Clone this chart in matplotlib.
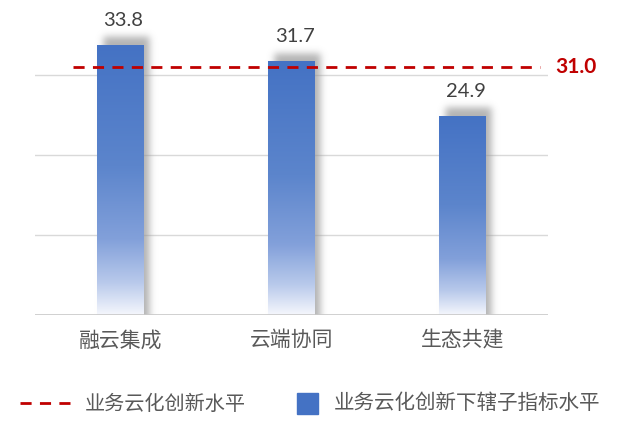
import math
import numpy as np
import matplotlib
matplotlib.use("Agg")
import matplotlib.pyplot as plt
from matplotlib.lines import Line2D
from matplotlib.patches import Rectangle
from matplotlib.colors import LinearSegmentedColormap

categories = ["融云集成", "云端协同", "生态共建"]
values = [33.8, 31.7, 24.9]
benchmark = 31.0
legend_labels = ["业务云化创新水平", "业务云化创新下辖子指标水平"]

FONT = ["Lato", "Noto Sans CJK SC", "DejaVu Sans"]
plt.rcParams["font.family"] = FONT

W, H = 640, 425
fig = plt.figure(figsize=(W / 100, H / 100), dpi=100)
ax_left, ax_right, ax_base = 35, 548, 315
ax = fig.add_axes([ax_left / W, 1 - ax_base / H, (ax_right - ax_left) / W, ax_base / H])
ymax = 39.375
ax.set_xlim(-0.5, len(categories) - 0.5)
ax.set_ylim(0, ymax)

px_x = (ax_right - ax_left) / len(categories)   # pixels per x unit
px_y = ax_base / ymax                            # pixels per y unit

# gridlines
for g in [10, 20, 30]:
    ax.axhline(g, color="#D9D9D9", lw=1, zorder=0)
ax.axhline(0, color="#C8C8C8", lw=1.2, zorder=4)

x = np.arange(len(categories))
bar_w = 0.27
bars = ax.bar(x, values, width=bar_w, color="none", edgecolor="none", zorder=2)

cmap = LinearSegmentedColormap.from_list(
    "grad",
    [(0.0, "#4472C4"), (0.45, "#5C85CC"), (0.72, "#82A0DA"), (0.88, "#B8C9EB"), (1.0, "#F4F6FC")],
)
verf = np.vectorize(math.erf)

for b in bars:
    x0, w, h = b.get_x(), b.get_width(), b.get_height()
    # soft shadow
    dx, dy, sig = 6 / px_x, 8 / px_y, 5.0
    sx0, sx1 = x0 + dx, x0 + w + dx
    sy1 = h + dy
    ex0, ex1 = sx0 - 3 * sig / px_x, sx1 + 3 * sig / px_x
    ey1 = sy1 + 3 * sig / px_y
    nx, ny = 80, 240
    gx = np.linspace(ex0, ex1, nx)
    gy = np.linspace(0, ey1, ny)
    ax_prof = 0.5 * (verf((gx - sx0) * px_x / sig) - verf((gx - sx1) * px_x / sig))
    ay_prof = 0.5 * (1 - verf((gy - sy1) * px_y / sig))
    alpha = np.outer(ay_prof[::-1], ax_prof) * 0.7
    img = np.zeros((ny, nx, 4))
    img[..., :3] = 0.58
    img[..., 3] = alpha
    ax.imshow(img, extent=[ex0, ex1, 0, ey1], aspect="auto", zorder=1, interpolation="bilinear")
    # gradient fill
    grad = np.linspace(0, 1, 256).reshape(-1, 1)
    im = ax.imshow(grad, cmap=cmap, extent=[x0, x0 + w, 0, h], aspect="auto",
                   zorder=2, interpolation="bilinear", vmin=0, vmax=1)
    im.set_clip_path(b)
    ax.text(x0 + w / 2 + 3 / px_x, h + 2.0, f"{h:.1f}", ha="center", va="bottom",
            fontsize=14.5, color="#404040", zorder=5)

ax.set_xlim(-0.5, len(categories) - 0.5)
ax.set_ylim(0, ymax)

# benchmark line
x_start = -0.5 + (73 - ax_left) / px_x
x_end = -0.5 + (540 - ax_left) / px_x
ax.plot([x_start, x_end], [benchmark, benchmark], color="#C00000", lw=2,
        dashes=(4, 3), zorder=3, solid_capstyle="butt")
ax.text(x_end + 15 / px_x, benchmark, f"{benchmark:.1f}", ha="left", va="center",
        fontsize=15, fontweight="bold", color="#C00000", clip_on=False)

ax.set_xticks(x)
ax.set_xticklabels(categories, fontsize=15, color="#595959")
ax.tick_params(axis="x", length=0, pad=11)
ax.set_yticks([])
for s in ax.spines.values():
    s.set_visible(False)

# legend (manual)
ly = 1 - 403 / H
fig.add_artist(Line2D([20 / W, 72 / W], [ly, ly], color="#C00000", lw=2, dashes=(4, 3)))
fig.text(85 / W, ly, legend_labels[0], fontsize=14.5, color="#595959", va="center", ha="left")
fig.add_artist(Rectangle((297 / W, ly - 10.5 / H), 21 / W, 21 / H, color="#4472C4"))
fig.text(334 / W, ly, legend_labels[1], fontsize=14.8, color="#595959", va="center", ha="left")

fig.savefig("out.png", dpi=100)
